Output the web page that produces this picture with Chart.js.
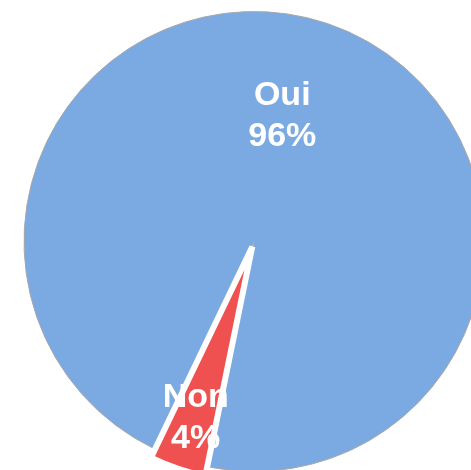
<!DOCTYPE html>
<html>
<head>
<meta charset="utf-8">
<script src="https://cdn.jsdelivr.net/npm/chart.js@4/dist/chart.umd.min.js"></script>
<style>
  html, body { margin: 0; padding: 0; background: #ffffff; overflow: hidden; }
  #wrap { width: 471px; height: 470px; }
</style>
</head>
<body>
<div id="wrap"><canvas id="c" width="471" height="470"></canvas></div>
<script>
// ---- data ----
const categories = ["Oui", "Non"];
const values = [96, 4];
const sliceColors = ["#7BAAE3", "#EF5151"];

// ---- label placement (fraction of slice angle, fraction of radius) ----
const labelAngleFrac = [0.482, 0.5];
const labelRadiusFrac = [0.573, 0.795];

const labelPlugin = {
  id: 'sliceLabels',
  afterDatasetsDraw(chart) {
    const ctx = chart.ctx;
    const meta = chart.getDatasetMeta(0);
    const data = chart.data.datasets[0].data;
    const total = data.reduce((a, b) => a + b, 0);
    ctx.save();
    ctx.fillStyle = '#ffffff';
    ctx.font = 'bold 34px "Liberation Sans", Arial, sans-serif';
    ctx.textAlign = 'center';
    ctx.textBaseline = 'alphabetic';
    meta.data.forEach((arc, i) => {
      const p = arc.getProps(['x', 'y', 'startAngle', 'endAngle', 'outerRadius'], true);
      const a = p.startAngle + (p.endAngle - p.startAngle) * labelAngleFrac[i];
      const r = p.outerRadius * labelRadiusFrac[i];
      const cx = p.x + Math.cos(a) * r;
      const cy = p.y + Math.sin(a) * r;
      const pct = Math.round(data[i] / total * 100) + '%';
      ctx.fillText(chart.data.labels[i], cx, cy - 8);
      ctx.fillText(pct, cx, cy + 33);
    });
    ctx.restore();
  }
};

new Chart(document.getElementById('c'), {
  type: 'pie',
  data: {
    labels: categories,
    datasets: [{
      data: values,
      backgroundColor: sliceColors,
      borderColor: ["#A8A8A8", "#FFFFFF"],
      borderWidth: [1, 6],
      offset: [0, 22],
      hoverOffset: 0,
      clip: false
    }]
  },
  options: {
    responsive: false,
    animation: false,
    events: [],
    rotation: 205.8,
    radius: 230,
    layout: { padding: { left: 37, top: 13, right: 0, bottom: 0 } },
    plugins: {
      legend: { display: false },
      tooltip: { enabled: false },
      title: { display: false }
    }
  },
  plugins: [labelPlugin]
});
</script>
</body>
</html>
